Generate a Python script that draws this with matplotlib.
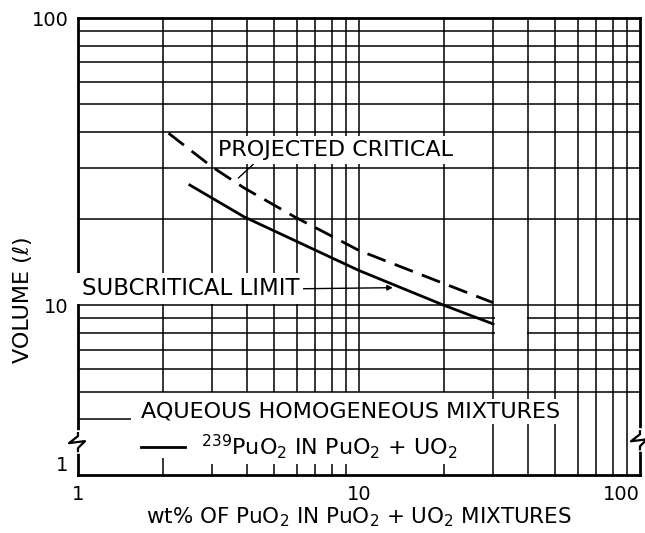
import matplotlib
matplotlib.use("Agg")
import matplotlib.pyplot as plt
from matplotlib.patches import Rectangle
from matplotlib.ticker import NullFormatter

plt.rcParams["font.family"] = ["DejaVu Sans"]
plt.rcParams["mathtext.fontset"] = "dejavusans"
plt.rcParams["mathtext.default"] = "regular"

# 図から読み取った値
crit_x = [2.1, 3.0, 3.9, 5.9, 7.9, 10, 20, 30]
crit_y = [39.7, 30.3, 25.6, 20.3, 17.5, 15.5, 11.9, 10.2]
sub_x = [2.5, 3.0, 3.9, 5.9, 7.9, 10, 20, 30]
sub_y = [26.2, 23.6, 20.3, 16.8, 14.7, 13.2, 10.0, 8.6]

x_grid = [2, 3, 4, 5, 6, 7, 8, 9, 10, 20, 30, 40, 50, 60, 70, 80, 90]
y_grid = [5, 6, 7, 8, 9, 10, 20, 30, 40, 50, 60, 70, 80, 90]
x_ticks = [1, 10, 100]
x_tick_labels = ["1", "10", "100"]
y_bottom = 2.56  # 軸の切れ目より下、ラベルは "1"
y_ticks = [y_bottom, 10, 100]
y_tick_labels = ["1", "10", "100"]

fig = plt.figure(figsize=(6.45, 5.33), dpi=100)
ax = fig.add_axes([0.1209, 0.1088, 0.8713, 0.8574])
ax.set_xscale("log")
ax.set_yscale("log")
ax.set_xlim(1, 100)
ax.set_ylim(y_bottom, 100)

# 方眼（下の凡例まわりは線なし）
for xv in x_grid:
    ymin = 5 if xv <= 20 else y_bottom
    ax.vlines(xv, ymin, 100, color="black", lw=1.1, zorder=1)
for yv in y_grid:
    ax.hlines(yv, 1, 100, color="black", lw=1.1, zorder=1)
ax.hlines(4, 1, 1.55, color="black", lw=1.1, zorder=1)
ax.add_patch(Rectangle((30.6, 7.1), 9.0, 2.8, facecolor="white",
                       edgecolor="none", zorder=1.5))

ax.plot(crit_x, crit_y, color="black", lw=2, dashes=(7, 3.5), zorder=3)
sub_line, = ax.plot(sub_x, sub_y, color="black", lw=2, zorder=3)

box = dict(facecolor="white", edgecolor="none", pad=3)
ax.annotate("PROJECTED CRITICAL", xy=(3.72, 27.7), xytext=(3.15, 34.7),
            ha="left", va="center", fontsize=16, bbox=box, zorder=4,
            arrowprops=dict(arrowstyle="-", lw=1, color="black",
                            relpos=(0.17, 0.0), shrinkA=0, shrinkB=0))
ax.annotate("SUBCRITICAL LIMIT", xy=(13.2, 11.5), xytext=(1.03, 11.4),
            ha="left", va="center", fontsize=16.5, bbox=box, zorder=4,
            arrowprops=dict(arrowstyle="-|>", lw=1, color="black",
                            mutation_scale=8, relpos=(1.0, 0.5),
                            shrinkA=0, shrinkB=0))

leg = ax.legend([sub_line], ["$^{239}$PuO$_2$ IN PuO$_2$ + UO$_2$"],
                title="AQUEOUS HOMOGENEOUS MIXTURES", loc="lower left",
                bbox_to_anchor=(0.096, 0.011), frameon=False, fontsize=16,
                title_fontsize=16, alignment="left", handlelength=2.0,
                handletextpad=0.7, borderaxespad=0)
leg.get_title().set_bbox(dict(facecolor="white", edgecolor="none", pad=2))
for t in leg.get_texts():
    t.set_bbox(dict(facecolor="white", edgecolor="none", pad=2))
leg.set_zorder(4)

ax.set_xticks(x_ticks, x_tick_labels)
ax.set_xticks(x_grid[:10], minor=True)
ax.xaxis.set_minor_formatter(NullFormatter())
ax.set_yticks(y_ticks, y_tick_labels)
ax.set_yticks([], minor=True)
ax.tick_params(axis="x", which="major", length=0, pad=7, labelsize=14)
ax.tick_params(axis="x", which="minor", direction="in", length=12, width=1.1)
ax.tick_params(axis="y", which="both", length=0, pad=7, labelsize=14)
ax.get_xticklabels()[-1].set_ha("right")
ax.get_yticklabels()[0].set_va("bottom")

ax.set_xlabel("wt% OF PuO$_2$ IN PuO$_2$ + UO$_2$ MIXTURES", fontsize=15.5,
              labelpad=1)
ax.set_ylabel("VOLUME (\u2113)", fontsize=16)
ax.yaxis.set_label_coords(-0.080, 0.383)

for s in ax.spines.values():
    s.set_linewidth(2)


# 軸の切れ目マーク
def draw_break(ax, x_frac, y_frac):
    w, h = 562.0, 457.0
    gap = [(x_frac, y_frac + 9 / h), (x_frac, y_frac - 9 / h)]
    ax.plot([p[0] for p in gap], [p[1] for p in gap], color="white", lw=4,
            transform=ax.transAxes, clip_on=False, zorder=5)
    pts = [(0, 9), (0, 6), (-9, -1), (7, 1), (0, -6), (0, -9)]
    ax.plot([x_frac + p[0] / w for p in pts], [y_frac + p[1] / h for p in pts],
            color="black", lw=1.6, transform=ax.transAxes, clip_on=False,
            zorder=6)


draw_break(ax, 0.0, 0.072)
draw_break(ax, 1.0, 0.076)

fig.savefig("out.png", dpi=100)
